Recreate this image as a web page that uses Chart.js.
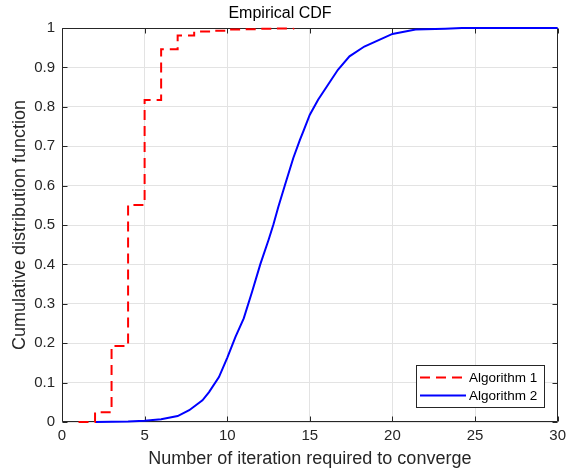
<!DOCTYPE html>
<html><head><meta charset="utf-8">
<script src="https://cdn.jsdelivr.net/npm/chart.js@4"></script>
<style>html,body{margin:0;padding:0;background:#fff;} canvas{display:block;}</style>
</head><body>
<canvas id="c" width="571" height="470"></canvas>
<script>
const alg1X = [1, 2, 3, 4, 5, 6, 7, 8, 9, 10, 11, 12, 13, 14];
const alg1Y = [0, 0.025, 0.193, 0.551, 0.817, 0.946, 0.981, 0.991, 0.993, 0.996, 0.997, 0.998, 0.999, 1.0];
const alg2X = [2, 4, 5, 6, 7, 7.7, 8.5, 8.9, 9.5, 10, 10.5, 11, 11.5, 12, 12.5, 12.8, 13.1, 13.5, 14, 14.4, 14.6, 15, 15.5, 16.1, 16.7, 17.4, 18.3, 19.2, 20, 21.4, 23.2, 24.2, 30];
const alg2Y = [0, 0.001, 0.003, 0.007, 0.015, 0.03, 0.055, 0.076, 0.114, 0.163, 0.216, 0.263, 0.33, 0.40, 0.462, 0.502, 0.547, 0.602, 0.67, 0.716, 0.737, 0.78, 0.818, 0.856, 0.894, 0.928, 0.953, 0.970, 0.985, 0.996, 0.998, 1.0, 1.0];
const seriesNames = ['Algorithm 1', 'Algorithm 2'];
const xTickLabels = ['0', '5', '10', '15', '20', '25', '30'];
const yTickLabels = ['0', '0.1', '0.2', '0.3', '0.4', '0.5', '0.6', '0.7', '0.8', '0.9', '1'];
const titleText = 'Empirical CDF';
const xTitleText = 'Number of iteration required to converge';
const yTitleText = 'Cumulative distribution function';

const FONT = "'Liberation Sans', Arial, Helvetica, sans-serif";
const AXIS = '#262626';

const toPts = (xs, ys) => xs.map((x, i) => ({x: x, y: ys[i]}));

const boxPlugin = {
  id: 'boxTicks',
  beforeDatasetsDraw(chart) {
    const {ctx, chartArea: a, scales: {x, y}} = chart;
    ctx.save();
    ctx.strokeStyle = AXIS;
    ctx.lineWidth = 1;
    ctx.beginPath();
    const L = Math.round(a.left) + 0.5, R = Math.round(a.right) - 0.5;
    const T = Math.round(a.top) + 0.5, B = Math.round(a.bottom) - 0.5;
    ctx.rect(L, T, R - L, B - T);
    const tl = 5;
    x.ticks.forEach(t => {
      const px = Math.round(x.getPixelForValue(t.value)) + 0.5;
      ctx.moveTo(px, B); ctx.lineTo(px, B - tl);
      ctx.moveTo(px, T); ctx.lineTo(px, T + tl);
    });
    y.ticks.forEach(t => {
      const py = Math.round(y.getPixelForValue(t.value)) + 0.5;
      ctx.moveTo(L, py); ctx.lineTo(L + tl, py);
      ctx.moveTo(R, py); ctx.lineTo(R - tl, py);
    });
    ctx.stroke();
    ctx.restore();
  }
};

const legendPlugin = {
  id: 'matLegend',
  afterDraw(chart) {
    const {ctx} = chart;
    const lx = 416, ly = 365, lw = 128, lh = 42;
    ctx.save();
    ctx.fillStyle = '#fff';
    ctx.fillRect(lx, ly, lw, lh);
    ctx.strokeStyle = AXIS;
    ctx.lineWidth = 1;
    ctx.strokeRect(lx + 0.5, ly + 0.5, lw, lh);
    ctx.font = '13.5px ' + FONT;
    ctx.textBaseline = 'middle';
    ctx.textAlign = 'left';
    chart.data.datasets.forEach((ds, i) => {
      const cy = ly + 12.5 + i * 18;
      ctx.strokeStyle = ds.borderColor;
      ctx.lineWidth = ds.borderWidth;
      ctx.setLineDash(ds.borderDash || []);
      ctx.beginPath();
      ctx.moveTo(420, cy); ctx.lineTo(466, cy);
      ctx.stroke();
      ctx.setLineDash([]);
      ctx.fillStyle = '#000';
      ctx.fillText(ds.label, 469, cy + 0.5);
    });
    ctx.restore();
  }
};

new Chart(document.getElementById('c'), {
  type: 'line',
  data: {
    datasets: [
      {
        label: seriesNames[0],
        data: toPts(alg1X, alg1Y),
        borderColor: '#ff0000',
        borderWidth: 2,
        borderDash: [10, 6],
        stepped: 'before',
        pointRadius: 0,
        clip: 3,
        fill: false
      },
      {
        label: seriesNames[1],
        data: toPts(alg2X, alg2Y),
        borderColor: '#0000ff',
        borderWidth: 2,
        tension: 0,
        pointRadius: 0,
        clip: 3,
        fill: false
      }
    ]
  },
  options: {
    responsive: false,
    animation: false,
    devicePixelRatio: 1,
    layout: {padding: {left: 0, right: 11, top: 0, bottom: 0}},
    plugins: {
      legend: {display: false},
      tooltip: {enabled: false},
      title: {
        display: true,
        text: titleText,
        color: '#000',
        font: {family: FONT, size: 16, weight: 'normal', lineHeight: 1.2},
        padding: {top: 4, bottom: 4.8}
      }
    },
    scales: {
      x: {
        type: 'linear',
        min: 0, max: 30,
        afterFit(s) { s.height = 48; },
        grid: {color: '#e3e3e3', lineWidth: 1, drawTicks: false},
        border: {display: false},
        ticks: {
          stepSize: 5,
          padding: 5,
          color: AXIS,
          maxRotation: 0,
          font: {family: FONT, size: 15},
          callback: v => xTickLabels[Math.round(v / 5)]
        },
        title: {
          display: true,
          text: xTitleText,
          color: AXIS,
          font: {family: FONT, size: 18, lineHeight: 1.2},
          padding: {top: 0, bottom: 0}
        }
      },
      y: {
        type: 'linear',
        min: 0, max: 1,
        afterFit(s) { s.width = 62; },
        grid: {color: '#e3e3e3', lineWidth: 1, drawTicks: false},
        border: {display: false},
        ticks: {
          stepSize: 0.1,
          padding: 7,
          color: AXIS,
          font: {family: FONT, size: 15},
          callback: v => yTickLabels[Math.round(v * 10)]
        },
        title: {
          display: true,
          text: yTitleText,
          color: AXIS,
          font: {family: FONT, size: 18, lineHeight: 1.2},
          padding: {top: 9, bottom: 0}
        }
      }
    }
  },
  plugins: [boxPlugin, legendPlugin]
});
</script>
</body></html>
